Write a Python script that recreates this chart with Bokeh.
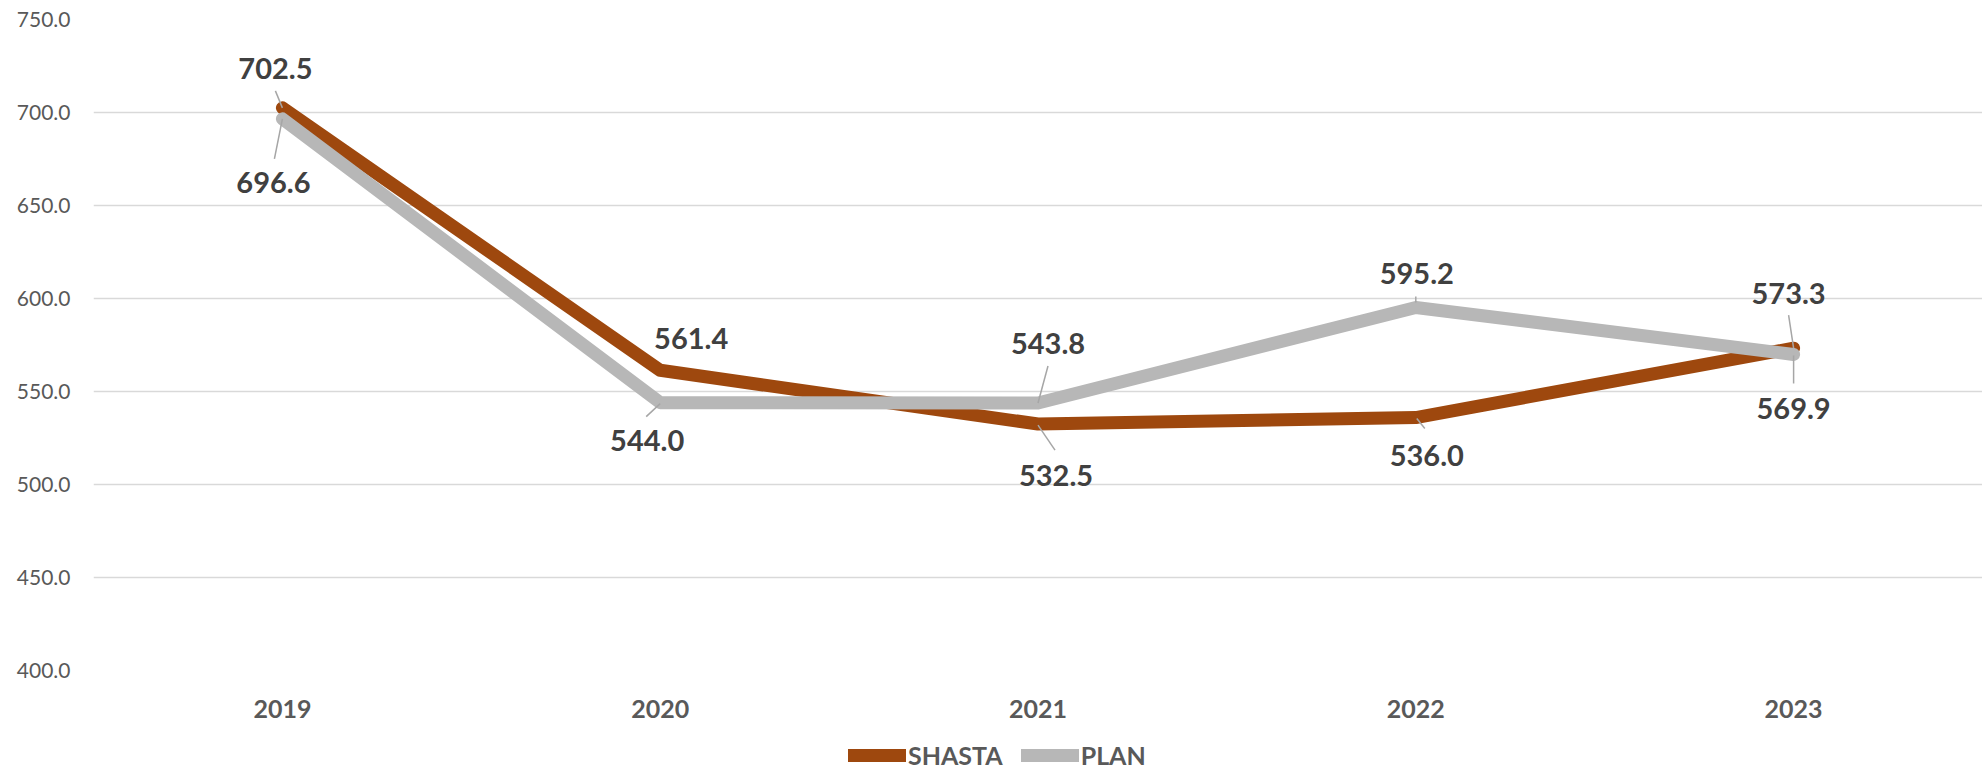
from bokeh.plotting import figure
from bokeh.layouts import column
from bokeh.models import (FactorRange, Range1d, FixedTicker, NumeralTickFormatter,
                          Legend, LegendItem, ColumnDataSource)
from bokeh.core.properties import value
from bokeh.embed import file_html
from bokeh.resources import INLINE

# --- data -------------------------------------------------------------
years = ["2019", "2020", "2021", "2022", "2023"]
shasta = [702.5, 561.4, 532.5, 536.0, 573.3]
plan = [696.6, 544.0, 543.8, 595.2, 569.9]
y_ticks = [400, 450, 500, 550, 600, 650, 700, 750]

# --- label placement (pixel offsets from each point) ------------------
shasta_label_dx = [-7, 31, 18, 11, -5]
shasta_label_dy = [-39, -32, 51, 38, -55]
plan_label_dx = [-9, -13, 10, 1, 0]
plan_label_dy = [64, 38, -60, -34, 54]

# leader lines: (x0, y0, x1, y1) pixel offsets from the point, None = no leader
shasta_leaders = [(-7, -17, 0, 0), None, (0, 1, 17, 26), (1, 1, 9, 11), (-5, -33, 0, 0)]
plan_leaders = [(-8, 40, 0, 0), (-14, 14, 0, 1), (10, -37, 0, 0), (0, -11, 0, -5), (0, 1, 0, 29)]

W = 1982
CHART_H, LEGEND_H = 725, 45
LEFT, TOP, BOTTOM = 93, 19, 55
Y0, Y1 = 400, 750

SHASTA_COLOR = "#9E480E"
PLAN_COLOR = "#B7B7B7"
FONT = "Lato"

p = figure(width=W, height=CHART_H, x_range=FactorRange(*years), y_range=Range1d(Y0, Y1),
           output_backend="svg", toolbar_location=None,
           min_border_left=LEFT, min_border_right=0, min_border_top=TOP,
           min_border_bottom=BOTTOM)
p.outline_line_color = None
p.background_fill_color = "white"
p.border_fill_color = "white"

# grid
p.xgrid.grid_line_color = None
p.ygrid.grid_line_color = "#D9D9D9"
p.ygrid.grid_line_width = 1.5

# axes
p.yaxis.ticker = FixedTicker(ticks=y_ticks)
p.yaxis.formatter = NumeralTickFormatter(format="0.0")
for ax in (p.xaxis[0], p.yaxis[0]):
    ax.axis_line_color = None
    ax.major_tick_line_color = None
    ax.minor_tick_line_color = None
    ax.major_tick_out = 0
    ax.major_label_text_font = FONT
    ax.major_label_text_color = "#595959"
p.yaxis.major_label_text_font_size = "21px"
p.yaxis.major_label_standoff = 23
p.xaxis.major_label_text_font_size = "25px"
p.xaxis.major_label_text_font_style = "bold"
p.xaxis.major_label_standoff = 29

# series lines
line_style = dict(line_width=13, line_cap="round", line_join="round")
r_shasta = p.line(years, shasta, line_color=SHASTA_COLOR, **line_style)
r_plan = p.line(years, plan, line_color=PLAN_COLOR, **line_style)

# pixel -> data conversion for leader lines
frame_w = W - LEFT
frame_h = CHART_H - TOP - BOTTOM
px_x = frame_w / len(years)
px_y = frame_h / (Y1 - Y0)

def leader_segments(vals, leaders):
    x0, y0, x1, y1 = [], [], [], []
    for i, (v, ld) in enumerate(zip(vals, leaders)):
        if ld is None:
            continue
        cx = i + 0.5
        x0.append(cx + ld[0] / px_x)
        y0.append(v - ld[1] / px_y)
        x1.append(cx + ld[2] / px_x)
        y1.append(v - ld[3] / px_y)
    return dict(x0=x0, y0=y0, x1=x1, y1=y1)

for vals, leaders in ((shasta, shasta_leaders), (plan, plan_leaders)):
    src = ColumnDataSource(leader_segments(vals, leaders))
    p.segment("x0", "y0", "x1", "y1", source=src, line_color="#A6A6A6", line_width=1.5)

# value labels
for vals, dx, dy in ((shasta, shasta_label_dx, shasta_label_dy),
                     (plan, plan_label_dx, plan_label_dy)):
    src = ColumnDataSource(dict(x=years, y=vals, t=[f"{v:.1f}" for v in vals], dx=dx, dy=dy))
    p.text("x", "y", text="t", x_offset="dx", y_offset="dy", source=src,
           text_font=value(FONT), text_font_size="29px", text_font_style="bold",
           text_color="#404040", text_align="center", text_baseline="middle")

# legend strip underneath the chart (swatch renderers carry no visible data)
nan = float("nan")
leg = figure(width=W, height=LEGEND_H, output_backend="svg", toolbar_location=None,
             min_border=0, x_range=Range1d(0, 1), y_range=Range1d(0, 1))
leg.axis.visible = False
leg.grid.visible = False
leg.outline_line_color = None
lg_shasta = leg.line([nan], [nan], line_color=SHASTA_COLOR, **line_style)
lg_plan = leg.line([nan], [nan], line_color=PLAN_COLOR, **line_style)
legend = Legend(items=[LegendItem(label="SHASTA", renderers=[lg_shasta]),
                       LegendItem(label="PLAN", renderers=[lg_plan])],
                orientation="horizontal", location=(755, 0),
                glyph_width=58, glyph_height=20, label_standoff=2, spacing=18,
                padding=0, margin=0, border_line_color=None,
                background_fill_alpha=0, label_height=20,
                label_text_font=FONT, label_text_font_size="25px",
                label_text_font_style="bold", label_text_color="#595959")
leg.add_layout(legend, "center")

layout = column(p, leg, spacing=0)
open("out.html", "w").write(file_html(layout, INLINE))
